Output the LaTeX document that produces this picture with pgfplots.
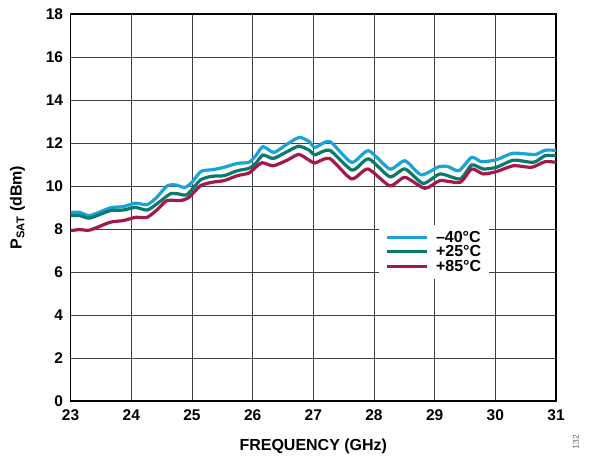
\documentclass[border=0pt]{standalone}
\usepackage{pgfplots}
\pgfplotsset{compat=1.18}
\usepackage{fontspec}
\setmainfont{Liberation Sans}
\usetikzlibrary{calc}
\definecolor{cblue}{HTML}{1AA3D9}
\definecolor{cteal}{HTML}{0A7A70}
\definecolor{cred}{HTML}{A3194B}
\begin{document}
\begin{tikzpicture}
\begin{axis}[name=ax, scale only axis, width=485.5pt, height=387pt,
  xmin=23, xmax=31, ymin=0, ymax=18,
  xtick={23,24,...,31}, ytick={0,2,...,18},
  grid=major, major grid style={black!75, line width=0.8pt},
  axis line style={black, line width=1.3pt},
  tick style={draw=none},
  ticklabel style={font=\fontsize{15.5}{18}\selectfont\bfseries},
  /pgf/number format/assume math mode=true,
  xticklabel style={yshift=-5pt},
  yticklabel style={xshift=-4pt},
  xlabel={FREQUENCY (GHz)},
  ylabel={P\textsubscript{SAT} (dBm)},
  xlabel style={font=\fontsize{16}{18}\selectfont\bfseries, at={([yshift=-45pt]axis description cs:0.5,0)}, anchor=center},
  ylabel style={font=\fontsize{16}{18}\selectfont\bfseries, at={([xshift=-53pt]axis description cs:0,0.5)}, anchor=center},
  legend style={at={(axis cs:28.08,8.2)}, anchor=north west, draw=none, fill=white,
    font=\fontsize{16}{16}\selectfont\bfseries, row sep=-2pt, inner xsep=6pt, inner ysep=4pt,
    /tikz/every odd column/.append style={column sep=6pt}},
  legend cell align=left,
  legend image code/.code={\draw[#1, line width=3pt] (0pt,0pt) -- (40pt,0pt);},
  every axis plot/.append style={line width=3.2pt, smooth, tension=0.4},
]
\addplot[cblue] table {
23.0 8.77
23.15 8.77
23.32 8.62
23.65 8.98
23.87 9.04
24.07 9.2
24.26 9.13
24.42 9.47
24.59 10.0
24.73 10.05
24.88 9.93
25.0 10.17
25.15 10.68
25.35 10.76
25.53 10.87
25.75 11.05
25.94 11.1
26.05 11.4
26.17 11.83
26.35 11.56
26.57 11.95
26.77 12.26
26.93 12.07
27.03 11.79
27.27 12.07
27.63 11.1
27.91 11.64
28.26 10.79
28.51 11.17
28.78 10.52
29.07 10.9
29.22 10.9
29.4 10.71
29.61 11.33
29.77 11.13
30.02 11.22
30.28 11.52
30.5 11.49
30.67 11.47
30.82 11.66
31.0 11.66
};
\addlegendentry{–40°C}
\addplot[cteal] table {
23.0 8.62
23.15 8.62
23.32 8.51
23.65 8.85
23.87 8.88
24.07 9.0
24.26 8.88
24.42 9.16
24.64 9.63
24.78 9.63
24.92 9.6
25.14 10.28
25.33 10.45
25.53 10.48
25.75 10.71
25.94 10.82
26.05 11.05
26.17 11.44
26.34 11.28
26.57 11.6
26.76 11.85
26.93 11.67
27.03 11.45
27.27 11.66
27.64 10.74
27.91 11.26
28.26 10.43
28.51 10.79
28.81 10.12
29.09 10.56
29.42 10.33
29.61 10.98
29.8 10.79
30.02 10.87
30.3 11.2
30.63 11.1
30.82 11.41
31.0 11.41
};
\addlegendentry{+25°C}
\addplot[cred] table {
23.0 7.92
23.15 7.97
23.32 7.95
23.65 8.31
23.87 8.39
24.07 8.54
24.26 8.54
24.42 8.88
24.59 9.32
24.81 9.32
24.95 9.47
25.14 10.01
25.33 10.17
25.53 10.25
25.75 10.48
25.94 10.6
26.05 10.87
26.16 11.08
26.34 10.94
26.57 11.2
26.76 11.47
26.93 11.2
27.03 11.07
27.27 11.28
27.63 10.33
27.9 10.79
28.26 10.01
28.51 10.4
28.84 9.89
29.09 10.25
29.42 10.17
29.61 10.79
29.8 10.56
30.02 10.67
30.3 10.94
30.6 10.87
30.82 11.13
31.0 11.1
};
\addlegendentry{+85°C}
\end{axis}
\node[rotate=90, font=\fontsize{8.5}{9}\selectfont, text=black!60] at ($(ax.south east)+(20pt,-41pt)$) {132};
\pgfresetboundingbox
\useasboundingbox ($(ax.south west)+(-70.6pt,-57pt)$) rectangle ($(ax.north east)+(33pt,14pt)$);
\end{tikzpicture}
\end{document}
